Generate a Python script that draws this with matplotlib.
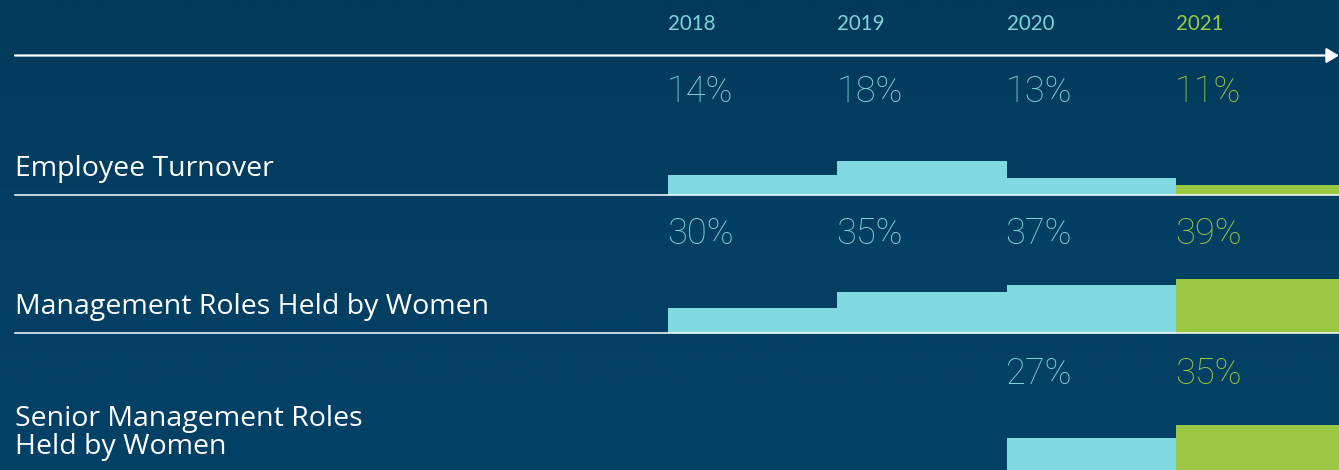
import numpy as np
import matplotlib
matplotlib.use("Agg")
import matplotlib.pyplot as plt
from matplotlib.lines import Line2D
from matplotlib.patches import FancyArrowPatch
from matplotlib.colors import LinearSegmentedColormap

YEARS = ["2018", "2019", "2020", "2021"]
ROW_LABELS = [
    "Employee Turnover",
    "Management Roles Held by Women",
    "Senior Management Roles\nHeld by Women",
]
TURNOVER = [14, 18, 13, 11]
MANAGEMENT_WOMEN = [30, 35, 37, 39]
SENIOR_MANAGEMENT_WOMEN = [np.nan, np.nan, 27, 35]

W, H = 1339, 470
BG = "#033f63"
CYAN = "#7fd9de"
CYAN_TEXT = "#7ed4d9"
GREEN = "#9bc944"
WHITE = "#ffffff"
NUM_FONT = "Roboto"
YEAR_FONT = "Lato"
LABEL_FONT = "Open Sans"

# per row: baseline (px from top), top of axes (px), value at baseline, px per percent,
# baseline of the percent labels, baseline of the row label
ROWS = [
    dict(values=TURNOVER, base_px=194.5, top_px=120, base_val=8.2, ppp=3.42, pct_y=101.5, label_y=176),
    dict(values=MANAGEMENT_WOMEN, base_px=332.7, top_px=260, base_val=22.5, ppp=3.27, pct_y=244.5, label_y=314),
    dict(values=SENIOR_MANAGEMENT_WOMEN, base_px=470, top_px=400, base_val=6.7, ppp=1.59, pct_y=384, label_y=425.7),
]

BAR_LEFT = 668
BAR_W = 169.3


def fx(x):
    return x / W


def fy(y):
    return 1 - y / H


def main():
    fig = plt.figure(figsize=(W / 100, H / 100), dpi=100)
    fig.patch.set_facecolor(BG)

    # background gradient, slightly darker at the top
    bg = fig.add_axes([0, 0, 1, 1], zorder=-10)
    grad = np.linspace(0, 1, 256).reshape(-1, 1)
    cmap = LinearSegmentedColormap.from_list("bg", ["#023a5b", "#033f63", "#034166"])
    bg.imshow(grad, aspect="auto", cmap=cmap, extent=[0, 1, 0, 1], origin="upper")
    bg.axis("off")

    x = np.arange(len(YEARS))
    colors = [CYAN] * (len(YEARS) - 1) + [GREEN]
    text_colors = [CYAN_TEXT] * (len(YEARS) - 1) + [GREEN]
    xmax = -0.5 + (W - BAR_LEFT) / BAR_W

    # year header
    for i, year in enumerate(YEARS):
        fig.text(fx(BAR_LEFT + i * BAR_W), fy(30.5), year, color=text_colors[i],
                 fontsize=14.8, family=YEAR_FONT, va="baseline", ha="left")

    # timeline arrow
    arrow = FancyArrowPatch((fx(15), fy(55.5)), (1.0, fy(55.5)), transform=fig.transFigure,
                            arrowstyle="-|>,head_length=0.75,head_width=0.45", mutation_scale=10,
                            color=WHITE, lw=1.6, shrinkA=0, shrinkB=0)
    fig.patches.append(arrow)

    for r, row in enumerate(ROWS):
        height_px = row["base_px"] - row["top_px"]
        ax = fig.add_axes([fx(BAR_LEFT), fy(row["base_px"]), fx(W - BAR_LEFT), height_px / H])
        ax.set_xlim(-0.5, xmax)
        ax.set_ylim(row["base_val"], row["base_val"] + height_px / row["ppp"])
        vals = np.array(row["values"], dtype=float)
        ax.bar(x, vals - row["base_val"], bottom=row["base_val"], width=1.0,
               color=colors, linewidth=0)
        ax.axis("off")

        for i, v in enumerate(vals):
            if np.isnan(v):
                continue
            fig.text(fx(BAR_LEFT - 1 + i * BAR_W), fy(row["pct_y"]), f"{v:.0f}%",
                     color=text_colors[i], fontsize=26, family=NUM_FONT, fontweight="light",
                     va="baseline", ha="left")

        lines = ROW_LABELS[r].split("\n")
        for k, line in enumerate(lines):
            fig.text(fx(15), fy(row["label_y"] + 28.5 * k), line, color=WHITE,
                     fontsize=20.5, family=LABEL_FONT, va="baseline", ha="left")

        if r < 2:
            fig.lines.append(Line2D([fx(15), 1.0], [fy(row["base_px"] + 0.7)] * 2,
                                    transform=fig.transFigure, color=WHITE, lw=1.1))

    fig.savefig("out.png", dpi=100, facecolor=BG)


if __name__ == "__main__":
    main()
